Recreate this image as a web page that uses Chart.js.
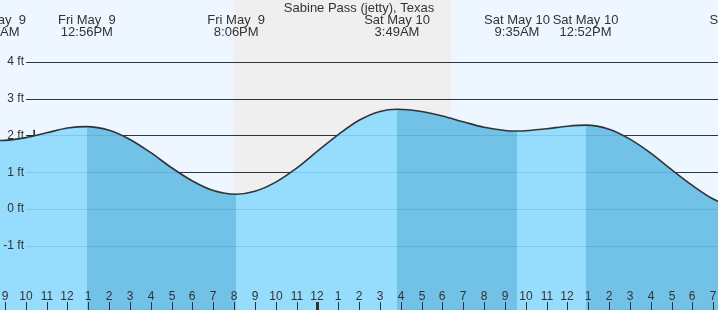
<!DOCTYPE html>
<html>
<head>
<meta charset="utf-8">
<script src="https://cdn.jsdelivr.net/npm/chart.js@4.4.1/dist/chart.umd.min.js"></script>
<style>
  html, body { margin: 0; padding: 0; background: #eef7ff; }
  #wrap { width: 718px; height: 310px; }
</style>
</head>
<body>
<div id="wrap"><canvas id="mare" width="718" height="310"></canvas></div>
<script>
// horas contadas a partir de Fri May 9, 00:00
const tideHours = [8.62, 9, 10, 11, 12, 12.93, 14, 15, 16, 17, 18, 19, 20.1, 21, 22, 23, 24, 25, 26, 27, 27.82,
  29, 30, 31, 32, 33, 33.58, 34, 35, 36, 36.87, 38, 39, 40, 41, 42, 43, 44, 44.33];
const tideFeet = [1.86, 1.865, 1.94, 2.07, 2.20, 2.24, 2.14, 1.89, 1.53, 1.12, 0.76, 0.50, 0.40, 0.48, 0.73, 1.11, 1.57, 2.02, 2.41, 2.65, 2.71,
  2.65, 2.53, 2.37, 2.22, 2.135, 2.12, 2.126, 2.18, 2.25, 2.28, 2.17, 1.90, 1.52, 1.07, 0.64, 0.27, 0.05, 0.02];

const eventHours = [8.62, 12.93, 20.1, 27.82, 33.58, 36.87, 44.4];
const eventKinds = ['L', 'H', 'L', 'H', 'L', 'H', 'L'];
const eventDays = ['Fri May  9', 'Fri May  9', 'Fri May  9', 'Sat May 10', 'Sat May 10', 'Sat May 10', 'Sat May 10'];
const eventClock = ['8:37AM', '12:56PM', '8:06PM', '3:49AM', '9:35AM', '12:52PM', '8:24PM'];

const firstTickHour = 9;
const hourLabels = ['9', '10', '11', '12', '1', '2', '3', '4', '5', '6', '7', '8', '9', '10', '11', '12',
  '1', '2', '3', '4', '5', '6', '7', '8', '9', '10', '11', '12', '1', '2', '3', '4', '5', '6', '7'];
const midnightHour = 24;

const feetTicks = [4, 3, 2, 1, 0, -1];
const feetLabels = ['4 ft', '3 ft', '2 ft', '1 ft', '0 ft', '-1 ft'];

const sunsetHour = 19.95;
const sunriseHour = 30.41;

const nowHour = [10.4];
const nowFeet = [1.99];

const stationName = 'Sabine Pass (jetty), Texas';

const corFundo = '#eef7ff';
const corNoite = '#efefef';
const corSubindo = '#96dcfd';
const corDescendo = '#72c1e6';
const corTexto = '#333';

// gradiente horizontal com cortes secos: claro enchendo, escuro vazando
function corPreenchimento(c) {
  const chart = c.chart;
  const area = chart.chartArea;
  if (!area) return corSubindo;
  const x = chart.scales.x;
  const g = chart.ctx.createLinearGradient(area.left, 0, area.right, 0);
  const larg = area.right - area.left;
  let cor = eventKinds[0] === 'H' ? corDescendo : corSubindo;
  g.addColorStop(0, cor);
  eventHours.forEach((h, i) => {
    const f = (x.getPixelForValue(h) - area.left) / larg;
    if (f <= 0 || f >= 1) return;
    g.addColorStop(f, cor);
    cor = eventKinds[i] === 'H' ? corDescendo : corSubindo;
    g.addColorStop(f, cor);
  });
  g.addColorStop(1, cor);
  return g;
}

const desenhoMare = {
  id: 'desenhoMare',
  beforeDatasetsDraw(chart) {
    const { ctx, scales: { x, y }, width, height } = chart;
    ctx.save();
    ctx.fillStyle = corFundo;
    ctx.fillRect(0, 0, width, height);
    const xs = x.getPixelForValue(sunsetHour);
    const xr = x.getPixelForValue(sunriseHour);
    ctx.fillStyle = corNoite;
    ctx.fillRect(xs, 0, xr - xs, height);

    ctx.strokeStyle = '#333';
    ctx.lineWidth = 1;
    feetTicks.forEach(f => {
      const py = Math.round(y.getPixelForValue(f)) + 0.5;
      ctx.beginPath();
      ctx.moveTo(26, py);
      ctx.lineTo(width, py);
      ctx.stroke();
    });
    ctx.restore();
  },
  afterDatasetsDraw(chart) {
    const { ctx, scales: { x, y }, width, height } = chart;
    ctx.save();

    // linhas fracas por cima do preenchimento
    ctx.strokeStyle = 'rgba(0, 80, 140, 0.15)';
    ctx.lineWidth = 1;
    feetTicks.forEach(f => {
      const py = Math.round(y.getPixelForValue(f)) + 0.5;
      ctx.beginPath();
      ctx.moveTo(26, py);
      ctx.lineTo(width, py);
      ctx.stroke();
    });

    ctx.fillStyle = corTexto;
    ctx.font = '12px "Liberation Sans", Arial, sans-serif';
    ctx.textAlign = 'right';
    ctx.textBaseline = 'middle';
    feetTicks.forEach((f, i) => {
      ctx.fillText(feetLabels[i], 24, y.getPixelForValue(f));
    });

    // eixo das horas
    ctx.textAlign = 'center';
    ctx.textBaseline = 'alphabetic';
    hourLabels.forEach((lbl, i) => {
      const h = firstTickHour + i;
      const px = Math.round(x.getPixelForValue(h));
      ctx.fillText(lbl, px, 300);
      if (h === midnightHour) {
        ctx.fillRect(px - 1, 302, 3, height - 302);
      } else {
        ctx.fillRect(px, 302, 1, height - 302);
      }
    });

    // titulo e horarios de preamar/baixamar
    ctx.font = '13px "Liberation Sans", Arial, sans-serif';
    ctx.fillText(stationName, width / 2, 12);
    eventHours.forEach((h, i) => {
      const px = x.getPixelForValue(h);
      ctx.fillText(eventDays[i], px, 24);
      ctx.fillText(eventClock[i], px, 36);
    });
    ctx.restore();
  }
};

const ctx = document.getElementById('mare').getContext('2d');
new Chart(ctx, {
  type: 'line',
  data: {
    datasets: [
      {
        data: tideHours.map((h, i) => ({ x: h, y: tideFeet[i] })),
        borderColor: '#333',
        borderWidth: 1.6,
        backgroundColor: corPreenchimento,
        fill: 'start',
        pointRadius: 0,
        cubicInterpolationMode: 'monotone'
      },
      {
        data: nowHour.map((h, i) => ({ x: h, y: nowFeet[i] })),
        showLine: false,
        fill: false,
        pointStyle: 'cross',
        pointRadius: 6,
        borderWidth: 1.5,
        borderColor: '#222',
        backgroundColor: '#222'
      }
    ]
  },
  options: {
    responsive: false,
    animation: false,
    devicePixelRatio: 1,
    layout: { padding: 0, autoPadding: false },
    plugins: { legend: { display: false }, tooltip: { enabled: false } },
    scales: {
      x: { type: 'linear', min: 8.76, max: 43.23, display: false },
      y: { min: -2.745, max: 5.68, display: false }
    }
  },
  plugins: [desenhoMare]
});
</script>
</body>
</html>
